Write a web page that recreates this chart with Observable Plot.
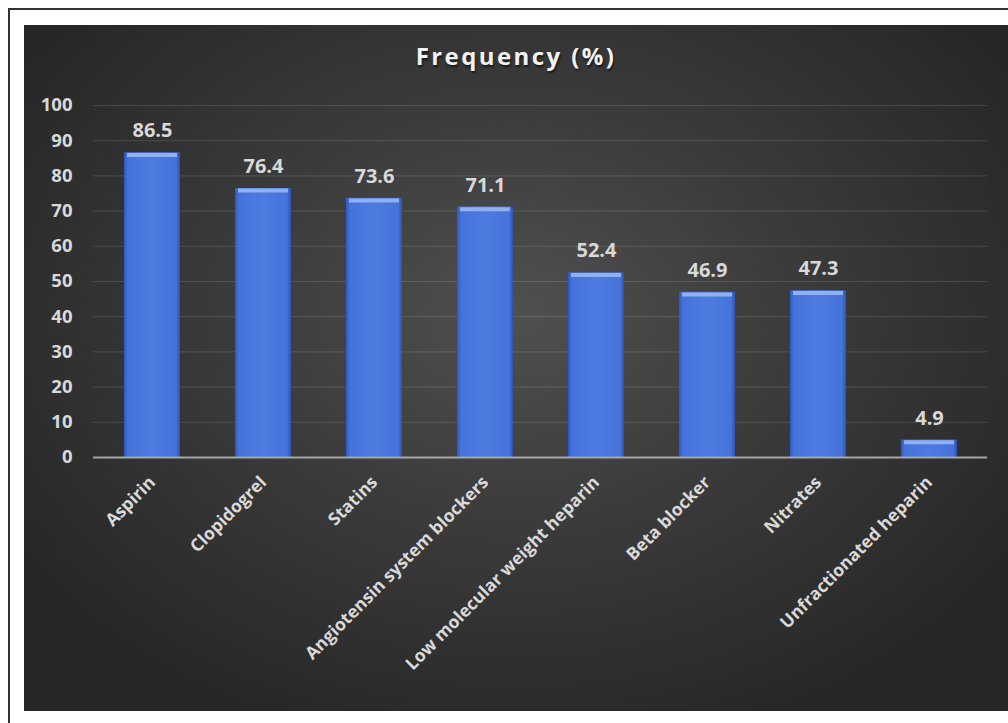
<!DOCTYPE html>
<html>
<head>
<meta charset="utf-8">
<script src="https://cdn.jsdelivr.net/npm/d3@7"></script>
<script src="https://cdn.jsdelivr.net/npm/@observablehq/plot@0.6"></script>
<style>
  html, body { margin: 0; padding: 0; background: #fff; }
  #page { position: relative; width: 1008px; height: 723px; background: #fff; overflow: hidden; font-family: "Open Sans", sans-serif; }
  #borderTop { position: absolute; left: 8px; top: 8px; width: 1000px; height: 2px; background: #333; }
  #borderLeft { position: absolute; left: 8px; top: 8px; width: 2px; height: 715px; background: #333; }
  #panel { position: absolute; left: 24px; top: 25px; width: 984px; height: 686px;
    background: radial-gradient(ellipse 60% 65% at 50% 42%, #505050 0%, #3c3c3c 45%, #272727 100%); }
  #title { position: absolute; left: 0; top: 14px; width: 984px; text-align: center; font-weight: 700; font-size: 24px;
    letter-spacing: 2.4px; color: #f2f2f2; text-shadow: 1px 2px 2px rgba(0,0,0,0.6); }
  #chart { position: absolute; left: 0; top: 0; }
</style>
</head>
<body>
<div id="page">
  <div id="borderTop"></div>
  <div id="borderLeft"></div>
  <div id="panel">
    <div id="chart"></div>
    <div id="title">Frequency (%)</div>
  </div>
</div>
<script>
const categories = ["Aspirin", "Clopidogrel", "Statins", "Angiotensin system blockers", "Low molecular weight heparin", "Beta blocker", "Nitrates", "Unfractionated heparin"];
const values = [86.5, 76.4, 73.6, 71.1, 52.4, 46.9, 47.3, 4.9];
const yTicks = [0, 10, 20, 30, 40, 50, 60, 70, 80, 90, 100];

const data = categories.map((c, i) => ({category: c, value: values[i]}));

const chart = Plot.plot({
  width: 984,
  height: 686,
  marginLeft: 69,
  marginRight: 21,
  marginTop: 80,
  marginBottom: 254,
  style: {background: "transparent", fontFamily: "'Open Sans', sans-serif", overflow: "visible"},
  x: {domain: categories, paddingInner: 0.5, paddingOuter: 0.25, label: null},
  y: {domain: [0, 100], label: null},
  marks: [
    () => {
      const ns = "http://www.w3.org/2000/svg";
      const g = document.createElementNS(ns, "defs");
      g.innerHTML = `
        <linearGradient id="barGrad" x1="0" x2="1" y1="0" y2="0">
          <stop offset="0" stop-color="#2d58bf"/>
          <stop offset="0.07" stop-color="#4573da"/>
          <stop offset="0.5" stop-color="#4d7be0"/>
          <stop offset="0.93" stop-color="#4573da"/>
          <stop offset="1" stop-color="#2a52b3"/>
        </linearGradient>
        <filter id="shadow" x="-20%" y="-20%" width="140%" height="140%">
          <feDropShadow dx="3" dy="2" stdDeviation="2" flood-color="#000" flood-opacity="0.55"/>
        </filter>`;
      return g;
    },
    Plot.ruleY(yTicks.filter(d => d > 0), {stroke: "#ffffff", strokeOpacity: 0.13, strokeWidth: 1}),
    Plot.barY(data, {x: "category", y: "value", fill: "url(#barGrad)", style: "filter:url(#shadow)"}),
    Plot.barY(data, {x: "category", y: "value", fill: "url(#barGrad)"}),
    Plot.tickY(data, {x: "category", y: "value", stroke: "#8fb0f2", strokeWidth: 4, dy: 2, inset: 3}),
    Plot.ruleY([0], {stroke: "#a6a6a6", strokeWidth: 2}),
    Plot.text(data, {x: "category", y: "value", text: d => d.value.toFixed(1), dy: -22, fill: "#d9d9d9", fontSize: 20, fontWeight: "bold"}),
    Plot.axisY({ticks: yTicks, tickSize: 0, tickPadding: 21, fontSize: 18.5, fontWeight: "bold", fill: "#d9d9d9", label: null}),
    Plot.axisX({tickRotate: -45, tickSize: 0, tickPadding: 22, fontSize: 17.5, fontWeight: "bold", fill: "#d9d9d9", label: null})
  ]
});
document.getElementById("chart").appendChild(chart);
</script>
</body>
</html>
